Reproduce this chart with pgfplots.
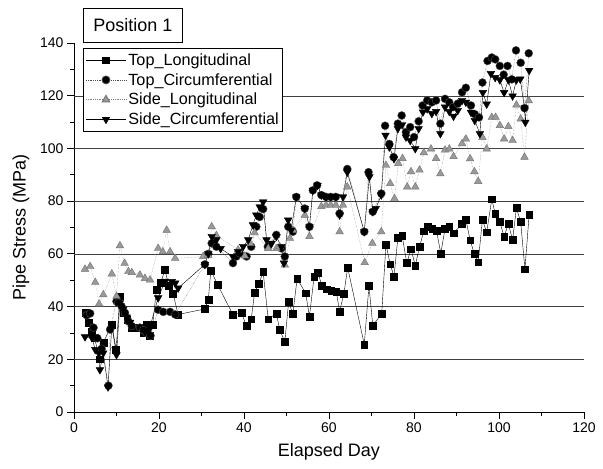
\documentclass[border=0pt]{standalone}
\usepackage{pgfplots}
\pgfplotsset{compat=1.18}
\usepackage{fontspec}
\setmainfont{Liberation Sans}

\pgfplotstableread{
x y
2.8 37.6
3.4 33.8
4.2 30.5
4.8 28.2
6.1 20
6.9 26.3
8.9 33.2
9.9 23.7
10.8 43.9
11.6 37.6
12.5 35
13.5 32
15.5 32
16.3 30
17.0 33
17.9 29
18.5 33
19.4 46.4
20.4 49
21.4 53.9
22.3 48
23.3 45
24.5 37
30.8 39.1
31.6 42.6
32.2 53.7
33.8 48.3
37.4 36.9
39.4 37.6
40.6 32.6
41.7 35.2
42.5 45.4
43.5 48.6
44.5 53.2
45.7 35.2
47.6 37.4
48.4 31.3
49.6 26.6
50.5 41.7
51.5 37.4
52.5 50.6
54.5 45.1
55.4 36.3
56.5 51.4
57.4 53
58.3 48
59.4 46.6
60.5 46.1
61.7 45.7
62.5 38.2
63.5 44.9
64.4 54.8
68.3 25.6
69.4 47.9
70.3 32.8
72.4 37.3
73.4 63.6
74.4 56.1
75.3 51.4
76.2 66
77.2 67
78.3 56.5
79.3 61.8
80.3 55.5
81.3 62.7
82.3 68.6
83.3 70.3
84.3 69.5
85.3 68.7
86.3 60.2
87.3 69.5
88.3 70.3
89.3 67.8
91.3 71.4
92.2 73.1
93.2 65.2
94.2 60
95.1 56.8
96.1 72.9
97.1 68.2
98.3 80.7
99.1 75.3
100.2 72.1
101.2 66.5
102.2 71.3
103.2 65.3
104.1 77.4
105.1 72.1
106.1 54.2
107.1 75
}\toplong

\pgfplotstableread{
x y
3.0 36.7
3.8 37.4
4.6 32
5.5 28
6.5 24
8.1 10
8.5 31.3
10.0 42
10.4 41.4
11.2 40.1
12.0 37.6
12.8 34.4
13.6 32.6
15.5 32
16.3 31
17.1 30
18.0 29
19.8 38.8
21.0 38
22.6 38
23.8 37
30.8 56
31.6 60
32.4 64
33.5 62.7
37.4 56.5
38.2 59
39.0 60.2
40.6 59
41.7 62.7
42.9 70.3
43.7 74
44.5 77
45.6 62.7
47.6 67.2
48.8 62.1
49.6 59
50.4 70.3
51.5 68.4
52.3 81.6
54.3 77.2
55.4 70.3
56.2 84.1
57.2 86
58.2 82.3
59.3 81.6
60.4 81.6
61.6 81.6
62.5 75.3
64.3 92.2
68.3 68.4
69.3 91
70.3 76
72.3 82.9
73.2 108.6
74.2 101.7
75.2 96.7
76.2 109.4
77.1 112.5
78.1 106.2
79.1 108.1
80.0 104.3
81.1 110.3
82.0 116.3
83.1 118.2
84.2 117.5
85.2 118.2
86.2 109.4
87.3 118.8
88.3 117.5
89.2 115.7
90.3 117
91.3 121.3
92.2 123
93.4 116.3
94.3 113
95.3 111.8
96.1 125
97.3 133.2
98.3 134.5
99.1 133.8
100.2 131.3
101.1 128
102.0 131.3
103.0 126.2
104.0 137.2
105.1 132.5
106.0 115.3
107.0 136.1
}\topcirc

\pgfplotstableread{
x y
2.6 54.2
3.8 55.2
5.0 49.2
5.9 41
6.9 44.5
8.9 52.4
10.0 43.9
10.8 63.1
11.9 56.4
12.8 53.3
13.6 52.9
15.5 52
16.7 50.7
17.9 50.1
19.8 62.1
20.9 60.8
21.8 69
22.6 60.8
23.8 58.3
30.4 59
31.6 59.5
32.4 70.3
33.5 67
38.6 61.5
40.2 59.2
41.4 64
42.5 68
45.7 62
47.6 62
48.4 62.7
49.6 55.8
50.8 65.9
51.5 69
54.3 74.7
55.4 66.6
58.2 78
59.3 78.5
60.4 78.5
61.6 78.5
62.5 68.4
63.3 78.5
64.3 85.4
68.4 56.7
70.2 64
72.3 68.4
73.4 93.6
74.4 86.7
75.4 81
76.3 94.3
77.3 96.2
78.4 85.4
79.3 91.2
80.3 85.4
81.3 91.8
82.3 98.4
84.0 99.8
85.2 96.2
86.2 90.4
87.3 99.4
88.3 99.8
89.3 96.9
91.3 101.8
92.2 103.6
93.2 96.1
94.2 91.2
95.1 87.5
96.1 104.2
97.1 99.8
98.3 111.8
99.2 111.8
100.2 108.7
101.2 103.6
102.2 108.3
103.2 103
104.1 116.5
105.1 111.2
106.0 96.7
107.0 118.1
}\sidelong

\pgfplotstableread{
x y
2.6 28.5
4.2 28.2
5.0 23.7
5.8 22.4
6.1 16
6.9 22.4
8.0 9.5
8.9 32.6
9.8 23.7
10.0 21.7
10.8 41.4
11.6 39
12.4 36
13.2 34
16.7 31
17.5 31
18.0 33
19.8 43.3
21.4 49.6
22.2 48.4
23.0 49.5
23.8 48.9
24.5 47
30.8 56
31.6 60
32.4 66.6
33.5 65.3
34.5 62
37.4 59
38.6 60.9
39.8 62.8
41.0 65.3
42.1 71
42.9 74.7
43.7 77.8
44.5 79.7
45.3 65.3
46.5 64
47.6 66.6
48.8 62.8
49.4 56.5
50.4 72.8
51.1 69
52.3 81.6
54.3 77.2
55.4 70.3
56.2 84.1
57.3 86
58.2 82.3
59.3 81.6
60.4 81.6
61.6 81.6
62.5 74.7
63.3 81.6
64.3 91
68.3 68.4
69.5 89.2
70.3 76
71.0 77.2
72.3 82.3
73.3 105
74.2 100.5
75.3 96.1
76.2 107.5
77.2 109
78.1 104.3
79.1 103
80.3 99.9
81.1 107.5
82.1 113.8
83.1 115
84.2 113.2
85.2 114
86.2 105.6
87.3 115.7
88.3 114
89.3 112.2
90.3 114.4
91.3 118.2
92.2 117.5
93.4 113.7
94.3 110.6
95.5 105.6
96.2 121.2
97.1 116.8
98.1 128.4
99.1 126.9
100.2 126
101.2 121.2
102.2 126
103.2 119.9
104.1 126
105.0 126.3
106.0 115.3
106.2 109.9
107.1 129.6
}\sidecirc

\begin{document}
\begin{tikzpicture}
\begin{axis}[
  name=ax,
  width=510pt, height=369pt, scale only axis,
  xmin=0, xmax=120, ymin=0, ymax=140,
  axis x line*=bottom, axis y line*=left,
  xtick={0,20,...,120}, ytick={0,20,...,140},
  minor x tick num=1, minor y tick num=1,
  tick align=outside,
  major tick length=7pt, minor tick length=4pt,
  every tick/.style={black, thick},
  axis line style={black, thick},
  extra y ticks={20,40,...,120},
  extra y tick labels={},
  extra y tick style={ymajorgrids=true, major tick length=0pt},
  major grid style={black!75, thin},
  /pgf/number format/assume math mode=true,
  tick label style={font=\fontsize{14}{16}\selectfont},
  xlabel={Elapsed Day}, ylabel={Pipe Stress (MPa)},
  label style={font=\fontsize{18}{20}\selectfont},
  xlabel style={at={([yshift=-40pt]rel axis cs:0.5,0)}, anchor=center},
  ylabel style={at={([xshift=-53pt]rel axis cs:0,0.5)}, anchor=center, rotate=0},
  legend style={at={(rel axis cs:0.018,0.986)}, anchor=north west,
    draw=black, thick, fill=white, font=\fontsize{16.2}{19}\selectfont,
    row sep=2.5pt, inner xsep=2pt, inner ysep=3pt},
  legend cell align=left,
  legend image code/.code={\draw[mark repeat=2, mark phase=2]
    plot coordinates {(0pt,0pt) (20pt,0pt) (40pt,0pt)};},
]
\addplot[black, thin, mark=square*, mark size=3.4pt, mark options={solid, fill=black}]
  table {\toplong};
\addplot[black!70, densely dotted, mark=*, mark size=4pt, mark options={solid, fill=black}]
  table {\topcirc};
\addplot[gray, densely dotted, mark=triangle*, mark size=4.4pt, mark options={solid, fill=gray!80, draw=black!55}]
  table {\sidelong};
\addplot[black, thin, mark=triangle*, mark size=4.4pt, mark options={solid, fill=black, rotate=180}]
  table {\sidecirc};
\legend{Top\_Longitudinal, Top\_Circumferential, Side\_Longitudinal, Side\_Circumferential}
\end{axis}
\node[draw=black, thick, fill=white, anchor=south west, inner xsep=10pt, inner ysep=10pt,
  font=\fontsize{18}{20}\selectfont] at ([xshift=9pt, yshift=0.5pt]ax.north west) {Position 1};
\path ([shift={(-74pt,-57pt)}]ax.south west) rectangle ([shift={(19pt,43pt)}]ax.north east);
\end{tikzpicture}
\end{document}
